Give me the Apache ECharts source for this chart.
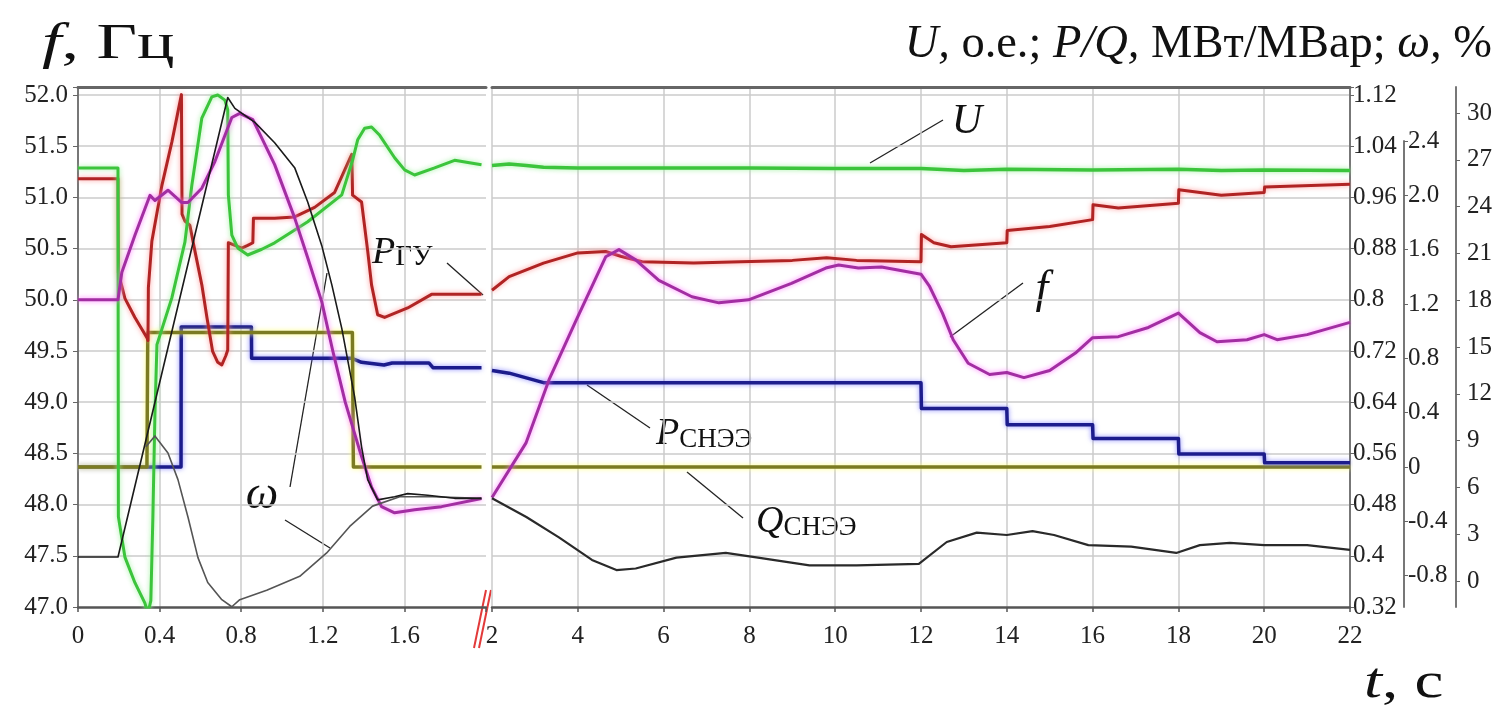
<!DOCTYPE html>
<html><head><meta charset="utf-8">
<script src="https://cdn.jsdelivr.net/npm/echarts@6/dist/echarts.min.js"></script>
<style>html,body{margin:0;padding:0;background:#fff}#c{width:1511px;height:709px}</style>
</head><body><div id="c"></div>
<script>
// ---------- tick labels ----------
const pTicks = [-0.8, -0.4, 0, 0.4, 0.8, 1.2, 1.6, 2.0, 2.4];
const wTicks = [0, 3, 6, 9, 12, 15, 18, 21, 24, 27, 30];

// ---------- U, p.u. ----------
const uLeft = [[0,1.006],[0.196,1.006],[0.198,0.461],[0.23,0.398],[0.279,0.358],[0.328,0.326],[0.343,0.31],[0.357,0.33],[0.367,0.46],[0.377,0.62],[0.387,0.73],[0.46,0.803],[0.524,0.89],[0.558,0.979],[0.607,1.084],[0.656,1.117],[0.685,1.12],[0.72,1.112],[0.734,1.097],[0.737,0.964],[0.754,0.901],[0.783,0.881],[0.832,0.87],[0.901,0.879],[0.964,0.889],[1.126,0.922],[1.293,0.964],[1.346,1.018],[1.371,1.05],[1.405,1.068],[1.439,1.07],[1.479,1.057],[1.552,1.022],[1.601,1.003],[1.65,0.995],[1.748,1.006],[1.846,1.018],[1.919,1.014],[1.978,1.011]];
const uRight = [[2,1.010],[2.4,1.012],[2.8,1.010],[3.2,1.007],[4,1.006],[8,1.006],[10,1.005],[12,1.005],[13,1.002],[14,1.004],[16,1.003],[18,1.004],[19,1.002],[20,1.003],[22,1.002]];

// ---------- P_GU, MW ----------
const pguLeft = [[0,2.12],[0.196,2.12],[0.198,1.43],[0.23,1.24],[0.279,1.10],[0.338,0.95],[0.343,0.93],[0.345,1.32],[0.362,1.66],[0.411,2.07],[0.46,2.39],[0.507,2.74],[0.51,1.86],[0.524,1.81],[0.548,1.78],[0.573,1.59],[0.607,1.34],[0.632,1.10],[0.66,0.85],[0.685,0.77],[0.705,0.75],[0.725,0.82],[0.734,0.86],[0.737,1.65],[0.769,1.63],[0.803,1.61],[0.832,1.63],[0.857,1.65],[0.86,1.83],[0.964,1.83],[1.062,1.84],[1.16,1.91],[1.258,2.02],[1.342,2.30],[1.346,2.00],[1.39,1.95],[1.42,1.59],[1.439,1.34],[1.469,1.12],[1.503,1.10],[1.616,1.17],[1.733,1.27],[1.812,1.27],[1.978,1.27]];
const pguRight = [[2,1.30],[2.4,1.40],[3.2,1.50],[4,1.575],[4.65,1.585],[5,1.55],[5.5,1.51],[6.7,1.50],[7.8,1.51],[9,1.52],[9.8,1.54],[10.5,1.52],[12,1.51],[12.01,1.71],[12.3,1.65],[12.7,1.62],[14,1.65],[14.01,1.74],[15,1.77],[16,1.82],[16.01,1.93],[16.6,1.905],[18,1.94],[18.01,2.04],[19,2.00],[20,2.02],[20.01,2.06],[22,2.08]];

// ---------- f, Hz ----------
const fLeft = [[0,50.0],[0.196,50.0],[0.215,50.27],[0.279,50.63],[0.353,51.02],[0.377,50.97],[0.441,51.07],[0.509,50.95],[0.539,50.95],[0.607,51.09],[0.671,51.35],[0.754,51.78],[0.793,51.82],[0.857,51.76],[0.964,51.32],[1.062,50.80],[1.126,50.41],[1.195,49.98],[1.249,49.50],[1.31,49.0],[1.385,48.5],[1.439,48.17],[1.488,47.98],[1.552,47.92],[1.65,47.95],[1.782,47.98],[1.978,48.06]];
const fRight = [[2,48.07],[2.79,48.60],[3.33,49.22],[3.96,49.80],[4.65,50.42],[4.96,50.49],[5.35,50.39],[5.89,50.19],[6.66,50.03],[7.29,49.97],[7.98,50.0],[8.98,50.16],[9.78,50.31],[10.08,50.34],[10.54,50.31],[11.08,50.32],[12,50.25],[12.2,50.13],[12.5,49.87],[12.75,49.61],[13.1,49.38],[13.6,49.27],[14,49.29],[14.4,49.24],[15.0,49.31],[15.6,49.48],[16,49.63],[16.6,49.64],[17.3,49.73],[18,49.87],[18.5,49.68],[18.9,49.59],[19.6,49.61],[20,49.66],[20.3,49.61],[21,49.66],[22,49.78]];

// ---------- P_SNEE, MW ----------
const psLeft = [[0,0.0],[0.505,0.0],[0.506,1.03],[0.85,1.03],[0.851,0.80],[1.34,0.80],[1.39,0.77],[1.50,0.75],[1.54,0.765],[1.72,0.765],[1.74,0.73],[1.978,0.73]];
const psRight = [[2,0.71],[2.4,0.69],[2.8,0.655],[3.2,0.62],[12,0.62],[12.01,0.43],[14,0.43],[14.01,0.31],[16,0.31],[16.01,0.21],[18,0.21],[18.01,0.095],[20,0.095],[20.01,0.03],[22,0.03]];

// ---------- Q_SNEE, MVAr ----------
const qLeft = [[0,0.0],[0.338,0.0],[0.342,0.99],[1.345,0.99],[1.35,0.0],[1.978,0.0]];
const qRight = [[2,0.0],[22,0.0]];

// ---------- omega, % ----------
const wLeft = [[0,1.54],[0.196,1.54],[0.734,31.0],[0.769,30.3],[0.867,29.4],[0.964,28.1],[1.062,26.5],[1.126,24.3],[1.195,21.5],[1.244,19.0],[1.293,16.2],[1.356,11.8],[1.39,8.6],[1.42,6.5],[1.469,5.2],[1.552,5.4],[1.616,5.6],[1.714,5.5],[1.846,5.3],[1.978,5.3]];
const w2Left = [[0.333,8.6],[0.377,9.3],[0.441,8.2],[0.49,6.5],[0.539,4.1],[0.588,1.5],[0.636,-0.1],[0.705,-1.2],[0.754,-1.65],[0.793,-1.2],[0.925,-0.6],[1.087,0.3],[1.219,1.8],[1.332,3.5],[1.444,4.8],[1.577,5.4],[1.738,5.4],[1.978,5.3]];
const wRight = [[2,5.3],[2.8,4.1],[3.56,2.8],[4.33,1.35],[4.9,0.7],[5.35,0.8],[6.3,1.5],[7.45,1.8],[8.2,1.5],[9.4,1.0],[10.5,1.0],[11.95,1.1],[12.6,2.5],[13.3,3.1],[14.0,2.95],[14.6,3.2],[15.1,2.95],[15.9,2.3],[16.9,2.2],[17.95,1.8],[18.5,2.3],[19.2,2.45],[20,2.3],[21,2.3],[22,2.0]];

// ---------- axis ranges ----------
const F_MIN = 47, F_MAX = 52.078;
const U_MIN = 0.32, U_MAX = 1.1325;
const P_MIN = -1.031, P_MAX = 2.796;
const W_MIN = -1.667, W_MAX = 31.67;

const FONT = '"Liberation Serif", "Times New Roman", serif';
const GRIDC = '#cbcbcb';

function fmtF(v){ const k=v/0.5; return Math.abs(k-Math.round(k))<1e-6 ? v.toFixed(1) : ''; }
function fmtU(v){ const k=v/0.08; return Math.abs(k-Math.round(k))<1e-6 ? String(Math.round(v*100)/100) : ''; }

const lbl = {fontFamily: FONT, fontSize: 25, color: '#222'};

function hiddenY(grid, min, max){ return {type:'value', gridIndex:grid, min, max, show:false}; }

const chart = echarts.init(document.getElementById('c'), null, {renderer:'canvas'});

function ser(data, xi, yi, color, glow, width, z){
  return {type:'line', data, xAxisIndex:xi, yAxisIndex:yi, showSymbol:false, symbol:'none',
    lineStyle:{color, width, shadowColor:glow||'rgba(0,0,0,0)', shadowBlur:glow?5:0, join:'round'},
    z, silent:true, animation:false};
}

const option = {
  animation: false,
  backgroundColor: '#fff',
  grid: [
    {left:78, right:1511-486, top:87, bottom:102, outerBoundsMode:'none'},
    {left:492, right:1511-1350, top:87, bottom:102, outerBoundsMode:'none'},
    {left:492, right:1511-1350, top:141, bottom:102, outerBoundsMode:'none'}
  ],
  xAxis: [
    {type:'value', gridIndex:0, position:'bottom', min:0, max:2, interval:0.4,
      axisLine:{onZero:false, lineStyle:{color:'#555', width:2.5}}, axisTick:{length:5, lineStyle:{color:'#555', width:1.5}},
      axisLabel:{...lbl, margin:17, formatter:v=> v>1.99 ? '' : (v===0?'0':v.toFixed(1))},
      splitLine:{show:true, showMinLine:false, showMaxLine:false, lineStyle:{color:GRIDC, width:1.5}}},
    {type:'value', gridIndex:1, position:'bottom', min:2, max:22, interval:2,
      axisLine:{onZero:false, lineStyle:{color:'#555', width:2.5}}, axisTick:{length:5, lineStyle:{color:'#555', width:1.5}},
      axisLabel:{...lbl, margin:17, formatter:v=>String(v)},
      splitLine:{show:true, showMaxLine:false, lineStyle:{color:GRIDC, width:1.5}}},
    {type:'value', gridIndex:0, position:'top', min:0, max:2,
      axisLine:{show:true, onZero:false, lineStyle:{color:'#666', width:3}}, axisTick:{show:false}, axisLabel:{show:false}, splitLine:{show:false}},
    {type:'value', gridIndex:1, position:'top', min:2, max:22,
      axisLine:{show:true, onZero:false, lineStyle:{color:'#666', width:3}}, axisTick:{show:false}, axisLabel:{show:false}, splitLine:{show:false}},
    {type:'value', gridIndex:2, min:2, max:22, show:false, axisLine:{onZero:false}}
  ],
  yAxis: [
    {type:'value', gridIndex:0, position:'left', min:F_MIN, max:F_MAX, interval:0.5,
      axisLine:{show:true, onZero:false, lineStyle:{color:'#777', width:2}}, axisTick:{show:true, length:5, lineStyle:{color:'#666'}},
      axisLabel:{...lbl, margin:10, formatter:fmtF},
      splitLine:{show:true, showMinLine:false, lineStyle:{color:GRIDC, width:1.5}}},
    hiddenY(0, U_MIN, U_MAX),
    hiddenY(0, P_MIN, P_MAX),
    hiddenY(0, W_MIN, W_MAX),
    {type:'value', gridIndex:1, position:'left', min:F_MIN, max:F_MAX, interval:0.5,
      axisLine:{show:false, onZero:false}, axisTick:{show:false}, axisLabel:{show:false},
      splitLine:{show:true, showMinLine:false, lineStyle:{color:GRIDC, width:1.5}}},
    {type:'value', gridIndex:1, position:'right', offset:0, min:U_MIN, max:U_MAX, interval:0.08,
      axisLine:{show:true, onZero:false, lineStyle:{color:'#777', width:2}}, axisTick:{show:true, inside:false, length:4, lineStyle:{color:'#666'}},
      axisLabel:{...lbl, margin:3, formatter:fmtU}, splitLine:{show:false}},
    hiddenY(1, P_MIN, P_MAX),
    {type:'value', gridIndex:1, position:'right', offset:106, min:W_MIN, max:W_MAX,
      axisLine:{show:true, onZero:false, lineStyle:{color:'#777', width:2}},
      axisTick:{show:true, length:4, customValues:wTicks, lineStyle:{color:'#666'}},
      axisLabel:{...lbl, margin:11, customValues:wTicks, formatter:v=>String(v)}, splitLine:{show:false}},
    {type:'value', gridIndex:2, position:'right', offset:54, min:P_MIN, max:2.4,
      axisLine:{show:true, onZero:false, lineStyle:{color:'#777', width:2}},
      axisTick:{show:true, length:4, customValues:pTicks, lineStyle:{color:'#666'}},
      axisLabel:{...lbl, margin:4, customValues:pTicks, formatter:v=> Math.abs(v)<1e-9 ? '0' : v.toFixed(1)}, splitLine:{show:false}}
  ],
  series: [
    ser(psLeft, 0, 2, '#1c1c8c', 'rgba(110,110,255,0.8)', 3.5, 3),
    ser(psRight, 1, 6, '#1c1c8c', 'rgba(110,110,255,0.8)', 3.5, 3),
    ser(qLeft, 0, 2, '#7b7b22', 'rgba(255,255,120,0.95)', 3.5, 4),
    ser(qRight, 1, 6, '#7b7b22', 'rgba(255,255,120,0.95)', 3.5, 2),
    ser(pguLeft, 0, 2, '#b02424', 'rgba(255,140,140,0.9)', 3, 5),
    ser(pguRight, 1, 6, '#b02424', 'rgba(255,140,140,0.9)', 3, 5),
    ser(uLeft, 0, 1, '#3cc43c', 'rgba(150,240,150,0.9)', 3, 6),
    ser(uRight, 1, 5, '#3cc43c', 'rgba(150,240,150,0.9)', 3.5, 6),
    ser(fLeft, 0, 0, '#a22ea2', 'rgba(255,120,255,0.95)', 3, 7),
    ser(fRight, 1, 4, '#a22ea2', 'rgba(255,120,255,0.95)', 3, 7),
    ser(w2Left, 0, 3, '#555', null, 1.6, 8),
    ser(wLeft, 0, 3, '#1a1a1a', null, 1.6, 9),
    ser(wRight, 1, 7, '#2a2a2a', null, 2.2, 9)
  ],
  graphic: [
    // axis titles
    {type:'text', x:42, y:45, scaleX:1.4, style:{text:'{i|f}{n|, Гц}', verticalAlign:'middle', align:'left',
      rich:{i:{font:'italic 50px '+FONT, fill:'#111'}, n:{font:'50px '+FONT, fill:'#111'}}}},
    {type:'text', x:1492, y:45, scaleX:1.01, style:{text:'{i|U,}{n| о.е.; }{i|P/Q,}{n| МВт/МВар; }{i|ω,}{n| %}', verticalAlign:'middle', align:'right',
      rich:{i:{font:'italic 46px '+FONT, fill:'#111'}, n:{font:'46px '+FONT, fill:'#111'}}}},
    {type:'text', x:1364, y:684, scaleX:1.3, style:{text:'{i|t}{n|, с}', verticalAlign:'middle', align:'left',
      rich:{i:{font:'italic 50px '+FONT, fill:'#111'}, n:{font:'50px '+FONT, fill:'#111'}}}},
    // annotations
    {type:'text', x:967, y:122, style:{text:'U', font:'italic 42px '+FONT, fill:'#111', align:'center', verticalAlign:'middle'}},
    {type:'line', shape:{x1:870, y1:163, x2:943, y2:120}, style:{stroke:'#222', lineWidth:1.3}},
    {type:'text', x:1042, y:290, style:{text:'f', font:'italic 46px '+FONT, fill:'#111', align:'center', verticalAlign:'middle'}},
    {type:'line', shape:{x1:950, y1:337, x2:1023, y2:283}, style:{stroke:'#222', lineWidth:1.3}},
    {type:'text', x:372, y:253, style:{text:'{i|P}{n|ГУ}', align:'left', verticalAlign:'middle',
      rich:{i:{font:'italic 38px '+FONT, fill:'#111', verticalAlign:'bottom'}, n:{font:'29px '+FONT, fill:'#111', verticalAlign:'bottom'}}}},
    {type:'line', shape:{x1:447, y1:263, x2:483, y2:295}, style:{stroke:'#222', lineWidth:1.3}},
    {type:'text', x:656, y:434, style:{text:'{i|P}{n|СНЭЭ}', align:'left', verticalAlign:'middle',
      rich:{i:{font:'italic 38px '+FONT, fill:'#111', verticalAlign:'bottom'}, n:{font:'27px '+FONT, fill:'#111', verticalAlign:'bottom'}}}},
    {type:'line', shape:{x1:587, y1:385, x2:650, y2:428}, style:{stroke:'#222', lineWidth:1.3}},
    {type:'text', x:756, y:522, style:{text:'{i|Q}{n|СНЭЭ}', align:'left', verticalAlign:'middle',
      rich:{i:{font:'italic 38px '+FONT, fill:'#111', verticalAlign:'bottom'}, n:{font:'27px '+FONT, fill:'#111', verticalAlign:'bottom'}}}},
    {type:'line', shape:{x1:687, y1:472, x2:743, y2:518}, style:{stroke:'#222', lineWidth:1.3}},
    {type:'text', x:262, y:496, style:{text:'ω', font:'italic 46px '+FONT, fill:'#111', align:'center', verticalAlign:'middle'}},
    {type:'line', shape:{x1:290, y1:487, x2:327, y2:273}, style:{stroke:'#222', lineWidth:1.3}},
    {type:'line', shape:{x1:285, y1:520, x2:330, y2:548}, style:{stroke:'#222', lineWidth:1.3}},
    // axis break mark
    {type:'line', shape:{x1:474, y1:648, x2:486, y2:590}, style:{stroke:'#e23a3a', lineWidth:2}},
    {type:'line', shape:{x1:479, y1:648, x2:491, y2:590}, style:{stroke:'#e23a3a', lineWidth:2}}
  ]
};
chart.setOption(option);
</script>
</body></html>
